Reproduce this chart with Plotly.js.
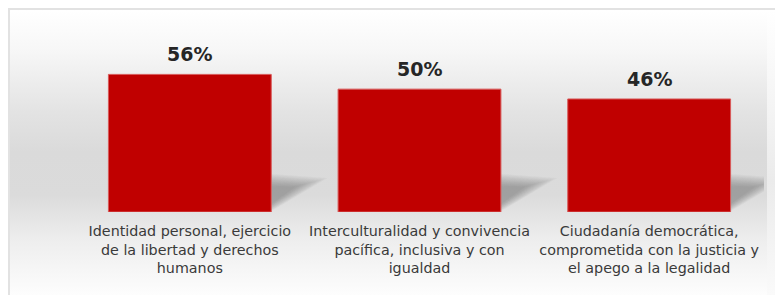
<!DOCTYPE html>
<html>
<head>
<meta charset="utf-8">
<script src="https://cdn.plot.ly/plotly-3.0.1.min.js"></script>
<style>
  html, body { margin: 0; padding: 0; background: #ffffff; }
  #wrap { position: relative; width: 775px; height: 295px; overflow: hidden; background: #ffffff; }
  #bgOuter { position: absolute; left: 8px; top: 8px; width: 767px; height: 287px;
    border-top: 2px solid #e2e2e2; border-left: 2px solid #e2e2e2; box-sizing: border-box;
    background: linear-gradient(to bottom, #ffffff 0%, #f4f4f4 35%, #ebebeb 60%, #fafafa 100%); }
  #bgInner { position: absolute; left: 10px; top: 10px; width: 757px; height: 285px;
    background: linear-gradient(to bottom, #ffffff 0%, #f7f7f7 14%, #e3e3e3 36%, #dadada 50%, #dbdbdb 65%, #ededed 80%, #fdfdfd 100%); }
  #chart { position: absolute; left: 0; top: 0; width: 775px; height: 295px; }
</style>
</head>
<body>
<div id="wrap">
  <div id="bgOuter"></div>
  <div id="bgInner"></div>
  <div id="chart"></div>
</div>
<script>
const categories = [
  "Identidad personal, ejercicio<br>de la libertad y derechos<br>humanos",
  "Interculturalidad y convivencia<br>pacífica, inclusiva y con<br>igualdad",
  "Ciudadanía democrática,<br>comprometida con la justicia y<br>el apego a la legalidad"
];
const values = [56, 50, 46];
const valueLabels = ["56%", "50%", "46%"];

const FONT = "DejaVu Sans, Verdana, sans-serif";
const barWidth = 0.709;

const shapes = [];
categories.forEach((c, i) => {
  const xr = i + barWidth / 2;
  // layered soft shadow cast to the right of each bar
  const n = 12;
  for (let k = 0; k < n; k++) {
    const f = k / (n - 1);
    const top = 15.5 - 5 * f;
    const tipX = 0.245 - 0.14 * f;
    const tipY = 13.8 - 3.5 * f;
    const bottom = 0.3 + 3 * f;
    shapes.push({
      type: "path", xref: "x", yref: "y", layer: "below",
      path: `M ${xr},${bottom} L ${xr},${top} L ${xr + tipX},${tipY} Z`,
      fillcolor: "rgba(80,80,80,0.04)", line: { width: 0 }
    });
  }
});

const annotations = categories.map((c, i) => ({
  x: i, y: values[i], xref: "x", yref: "y",
  text: "<b>" + valueLabels[i] + "</b>",
  showarrow: false, yanchor: "bottom", yshift: 7,
  font: { family: FONT, size: 19, color: "#262626" }
}));

const trace = {
  type: "bar",
  x: categories.map((c, i) => i),
  y: values,
  width: barWidth,
  marker: { color: "#c00000", line: { color: "#d85a5a", width: 1 } },
  hoverinfo: "none"
};

const layout = {
  width: 775, height: 295,
  margin: { l: 74.5, r: 10.5, t: 39.5, b: 83 },
  paper_bgcolor: "rgba(0,0,0,0)",
  plot_bgcolor: "rgba(0,0,0,0)",
  showlegend: false,
  xaxis: {
    type: "linear", range: [-0.5, 2.5],
    tickmode: "array", tickvals: [0, 1, 2], ticktext: categories,
    showgrid: false, zeroline: false, showline: false, ticks: "",
    ticklabelstandoff: 9,
    tickfont: { family: FONT, size: 14.3, color: "#3a3a3a" },
    fixedrange: true
  },
  yaxis: {
    range: [0, 70], visible: false, showgrid: false, zeroline: false, fixedrange: true
  },
  shapes: shapes,
  annotations: annotations
};

Plotly.newPlot("chart", [trace], layout, { displayModeBar: false, staticPlot: true });
</script>
</body>
</html>
